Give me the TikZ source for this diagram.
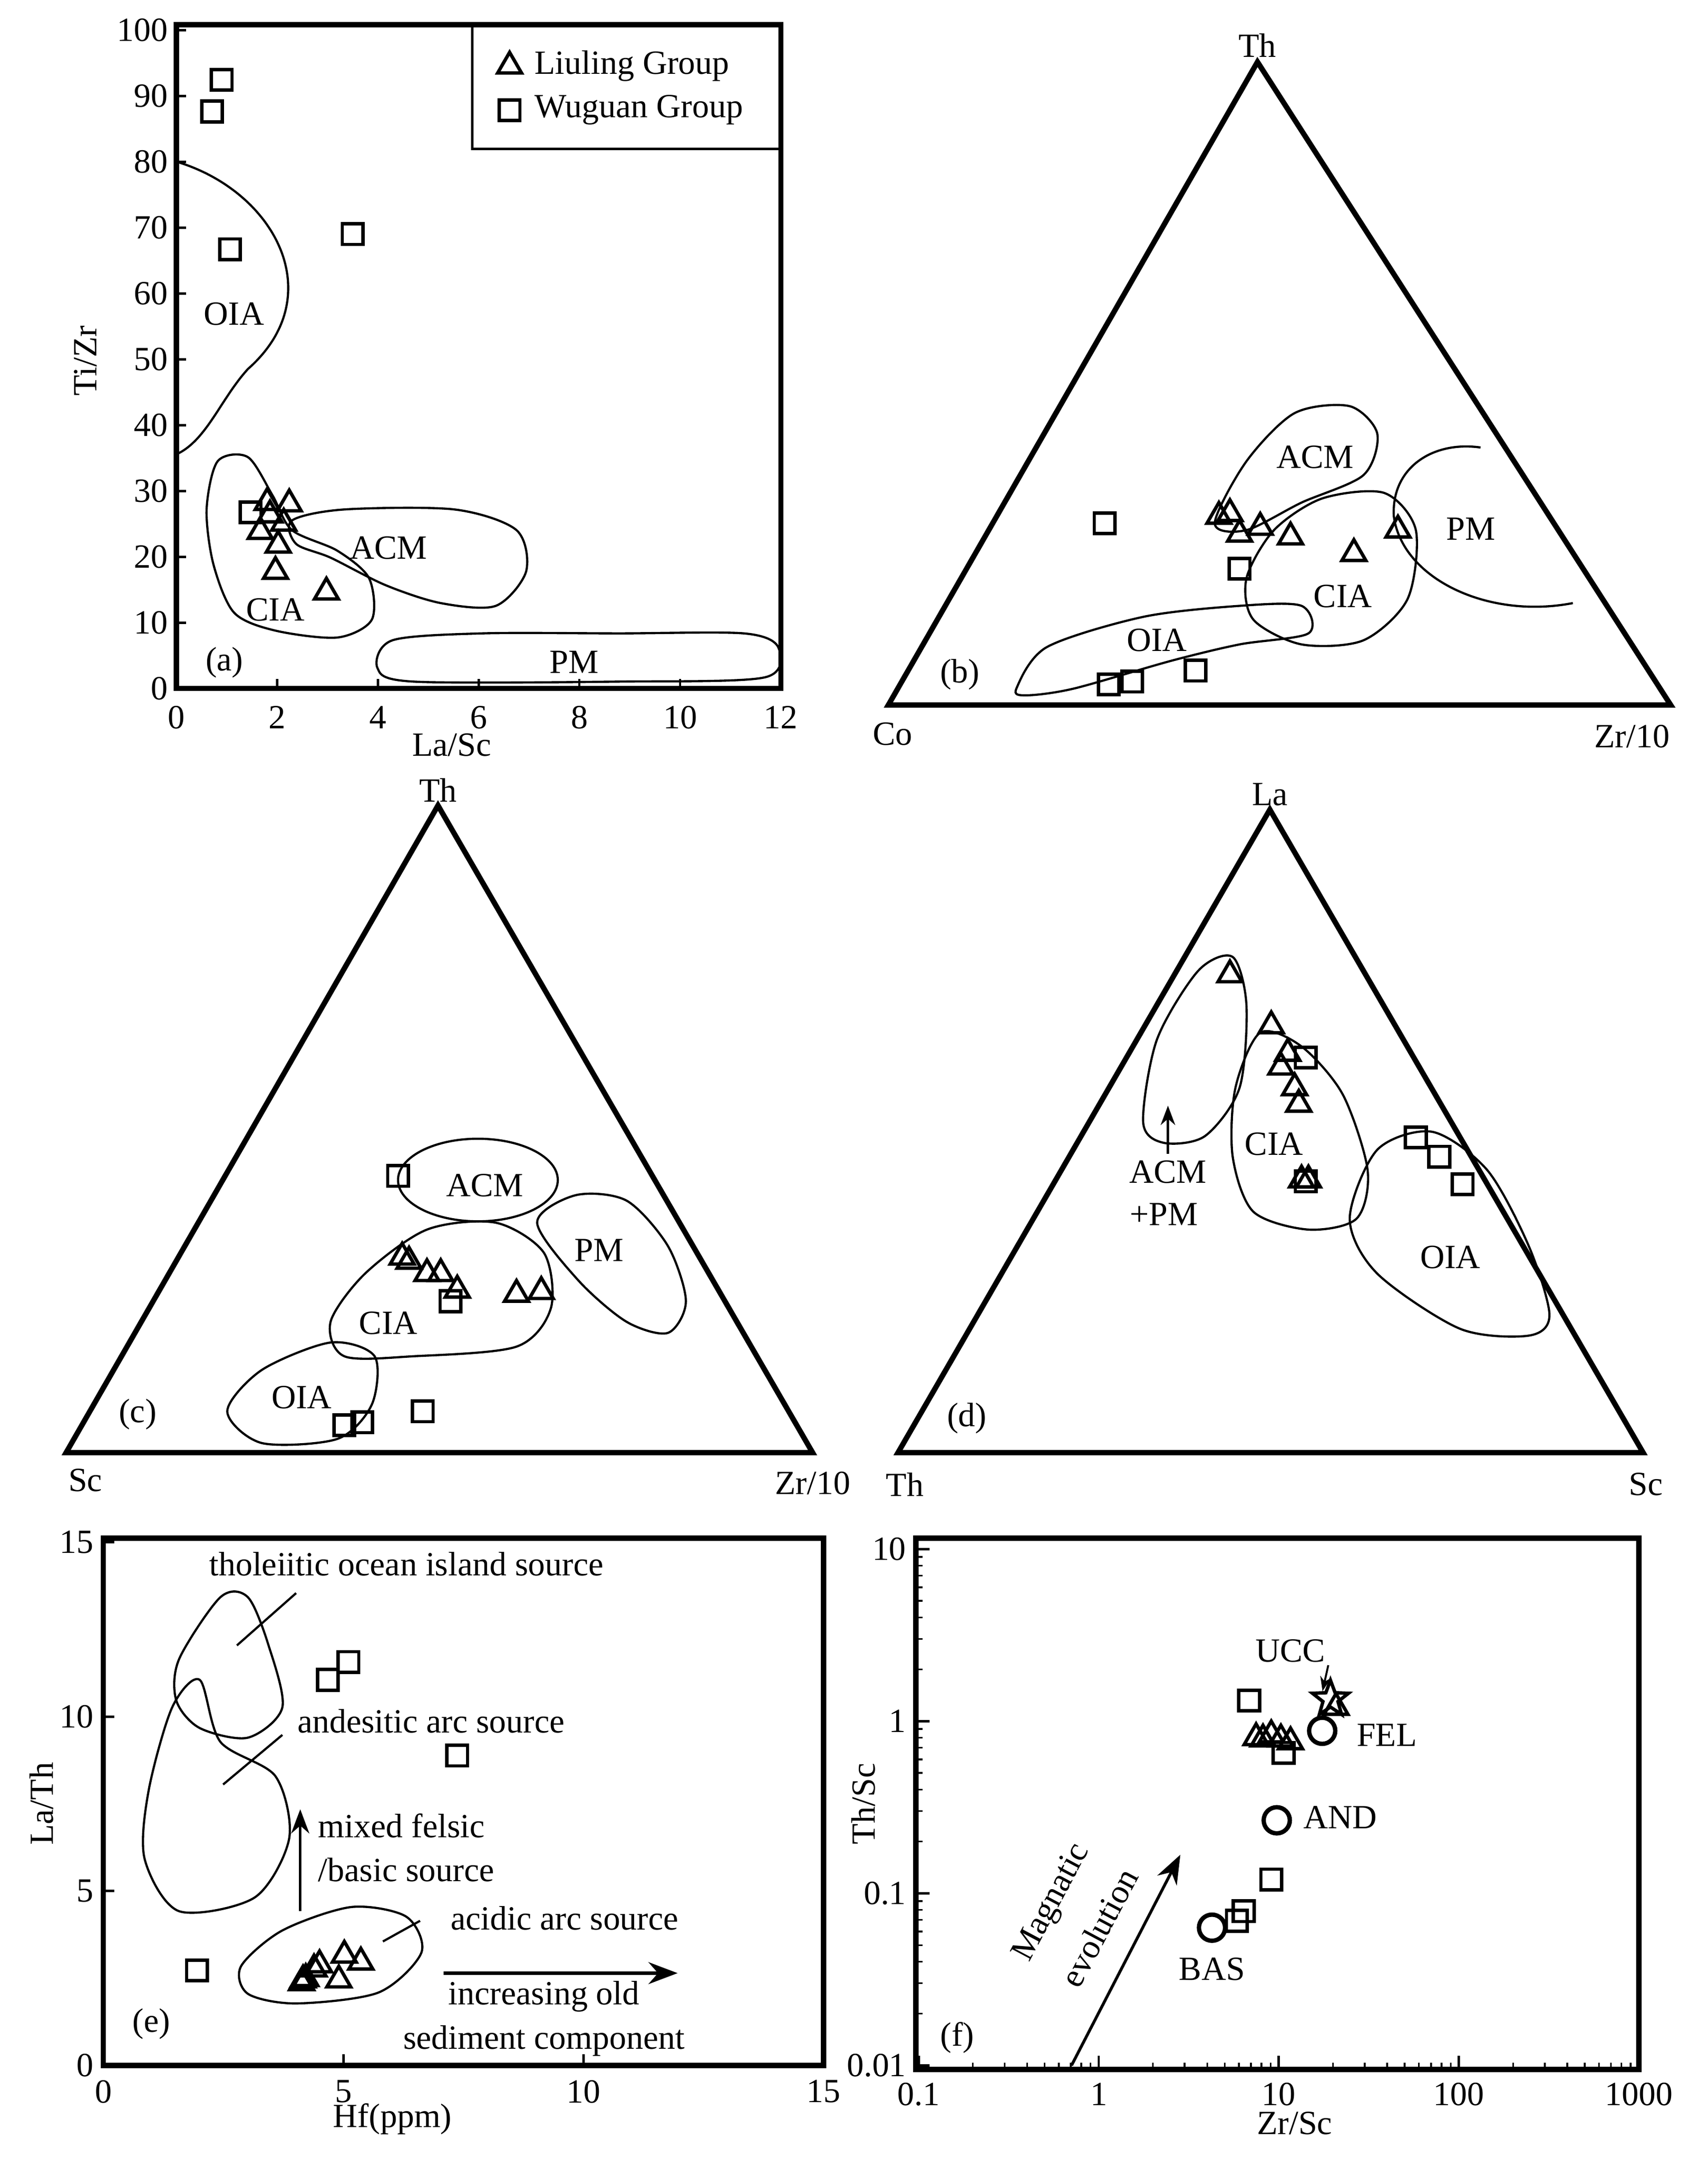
\documentclass[tikz,border=0pt]{standalone}
\usepackage{fontspec}
\setmainfont{Liberation Serif}
\usetikzlibrary{shapes.geometric,arrows.meta}
\tikzset{
  frame/.style={line width=2.2pt},
  field/.style={line width=0.9pt},
  sq/.style={draw,line width=1.4pt,minimum size=0.3cm,inner sep=0pt},
  tri/.style={draw,regular polygon,regular polygon sides=3,line width=1.4pt,minimum size=0.4cm,inner sep=0pt},
  circ/.style={draw,circle,line width=1.8pt,minimum size=0.38cm,inner sep=0pt},
  lab/.style={font=\fontsize{14}{16}\selectfont,inner sep=1pt},
}
\begin{document}
\begin{tikzpicture}[x=0.02cm,y=-0.02cm]
\useasboundingbox (0,0) rectangle (1240,1568);
% ---------- (a)
\draw[frame] (128,18) rectangle (567,500);
\draw[line width=1pt] (343,18) rectangle (567,108);
\node[tri] (lt) at (370,48) {};
\node[lab,anchor=west] (ltl) at (386,48) {Liuling Group};
\node[sq] (ls) at (370,80) {};
\node[lab,anchor=west] (lsl) at (386,80) {Wuguan Group};
\foreach \v [count=\i from 0] in {0,2,...,12} {
  \draw[line width=1pt] ({128+36.58*\v},500) -- ({128+36.58*\v},493);
  \node[lab] (ax\i) at ({128+36.58*\v},521) {\v};}
\foreach \v [count=\i from 0] in {0,10,...,100} {
  \draw[line width=1pt] (128,{500-4.78*\v}) -- (135,{500-4.78*\v});
  \node[lab,anchor=east] (ay\i) at (124,{500-4.78*\v}) {\v};}
\node[lab,rotate=90] (aylab) at (62,262) {Ti/Zr};
\node[lab] (axlab) at (328,541) {La/Sc};
\draw[field] (130,118) .. controls (200,140) and (240,215) .. (180,268)
  .. controls (160,290) and (150,320) .. (128,330);
\draw[field] plot[smooth cycle] coordinates {(158,335) (180,332) (198,360) (212,385) (245,400) (268,420) (270,450) (245,463) (200,458) (170,445) (155,410) (150,370)};
\draw[field] plot[smooth cycle] coordinates {(212,378) (250,370) (330,370) (375,385) (382,415) (360,440) (320,438) (280,425) (240,405) (215,395)};
\draw[field] plot[smooth cycle] coordinates {(285,465) (350,460) (450,460) (540,460) (565,470) (555,492) (450,495) (300,495) (274,485)};
\node[lab] (aoia) at (170,228) {OIA};
\node[lab] (aacm) at (282,398) {ACM};
\node[lab] (acia) at (200,443) {CIA};
\node[lab] (apm) at (417,481) {PM};
\node[lab] (alab) at (163,481) {(a)};
\foreach \p [count=\i] in {(154,81),(161,58),(167,181),(256,170),(182,372)}
  \node[sq] (asq\i) at \p {};
\foreach \p [count=\i] in {(194,365),(210,366),(189,386),(206,380),(202,396),(200,415),(237,430),(196,374)}
  \node[tri] (atr\i) at \p {};
% ---------- (b)
\coordinate (bco) at (645,512);
\coordinate (bzr) at (1213,512);
\coordinate (bth) at (913,45);
\draw[frame,line join=miter] (bco) -- (bzr) -- (bth) -- cycle;
\node[lab] (bthl) at (913,33) {Th};
\node[lab] (bcol) at (648,533) {Co};
\node[lab] (bzrl) at (1185,535) {Zr/10};
\draw[field] plot[smooth cycle] coordinates {(738,500) (760,470) (830,448) (900,440) (945,440) (950,460) (900,468) (850,480) (780,500) (745,505)};
\draw[field] plot[smooth cycle] coordinates {(882,380) (905,335) (940,300) (980,295) (1000,315) (990,345) (945,365) (905,385)};
\draw[field] plot[smooth cycle] coordinates {(905,420) (925,385) (960,362) (1005,358) (1028,385) (1022,435) (990,465) (945,468) (910,450)};
\draw[field] (1075,325) .. controls (1040,320) and (1010,340) .. (1012,375)
  .. controls (1018,420) and (1080,450) .. (1142,438);
\node[lab] (bacm) at (955,332) {ACM};
\node[lab] (bpm) at (1068,384) {PM};
\node[lab] (bcia) at (975,433) {CIA};
\node[lab] (boia) at (840,465) {OIA};
\node[lab] (blab) at (697,490) {(b)};
\foreach \p [count=\i] in {(802,380),(900,413),(805,497),(822,495),(868,487)}
  \node[sq] (bsq\i) at \p {};
\foreach \p [count=\i] in {(885,375),(893,373),(900,388),(915,383),(937,390),(983,402),(1015,385)}
  \node[tri] (btr\i) at \p {};
% ---------- (c)
\coordinate (csc) at (48,1055);
\coordinate (czr) at (590,1055);
\coordinate (cth) at (318,585);
\draw[frame,line join=miter] (csc) -- (czr) -- (cth) -- cycle;
\node[lab] (cthl) at (318,574) {Th};
\node[lab] (cscl) at (62,1075) {Sc};
\node[lab] (czrl) at (590,1077) {Zr/10};
\draw[field] (347,857) ellipse (58 and 30);
\draw[field] plot[smooth cycle] coordinates {(390,888) (418,868) (455,872) (485,905) (498,945) (485,968) (455,960) (420,930)};
\draw[field] plot[smooth cycle] coordinates {(240,960) (265,925) (310,893) (360,888) (395,910) (400,950) (375,978) (300,985) (250,985)};
\draw[field] plot[smooth cycle] coordinates {(165,1025) (190,995) (240,975) (272,985) (270,1020) (245,1045) (190,1048)};
\node[lab] (cacm) at (352,861) {ACM};
\node[lab] (cpm) at (435,908) {PM};
\node[lab] (ccia) at (282,961) {CIA};
\node[lab] (coia) at (219,1015) {OIA};
\node[lab] (clab) at (100,1027) {(c)};
\foreach \p [count=\i] in {(289,854),(327,945),(307,1025),(250,1035),(263,1033)}
  \node[sq] (csq\i) at \p {};
\foreach \p [count=\i] in {(292,913),(297,916),(310,925),(320,925),(332,937),(375,940),(393,938)}
  \node[tri] (ctr\i) at \p {};
% ---------- (d)
\coordinate (dth) at (652,1055);
\coordinate (dsc) at (1193,1055);
\coordinate (dla) at (922,588);
\draw[frame,line join=miter] (dth) -- (dsc) -- (dla) -- cycle;
\node[lab] (dlal) at (922,577) {La};
\node[lab] (dthl) at (657,1078) {Th};
\node[lab] (dscl) at (1195,1078) {Sc};
\draw[field] plot[smooth cycle] coordinates {(830,815) (840,755) (870,705) (895,695) (905,730) (900,790) (875,825) (845,830)};
\draw[field] plot[smooth cycle] coordinates {(897,790) (915,750) (945,760) (975,795) (993,850) (985,885) (950,893) (910,880) (895,840)};
\draw[field] plot[smooth cycle] coordinates {(980,885) (1000,835) (1040,822) (1080,850) (1110,905) (1125,955) (1110,970) (1060,965) (1000,925)};
\draw[-{Stealth[length=8pt]},line width=1pt] (848,838) coordinate (dar) -- (848,803) coordinate (dat);
\node[lab] (dcia) at (925,831) {CIA};
\node[lab] (dacm) at (848,851) {ACM};
\node[lab] (dpm) at (845,882) {+PM};
\node[lab] (doia) at (1053,913) {OIA};
\node[lab] (dlab) at (702,1030) {(d)};
\foreach \p [count=\i] in {(948,768),(1028,826),(1045,840),(1062,860),(948,858)}
  \node[sq] (dsq\i) at \p {};
\foreach \p [count=\i] in {(893,708),(923,745),(930,775),(935,765),(940,790),(943,802),(945,857),(950,857)}
  \node[tri] (dtr\i) at \p {};
% ---------- (e)
\draw[frame] (75,1117) rectangle (598,1500);
\foreach \v [count=\i from 0] in {0,5,10,15} {
  \draw[line width=1pt] ({75+34.87*\v},1500) -- ({75+34.87*\v},1492);
  \draw[line width=1pt] (75,{1500-25.33*\v}) -- (83,{1500-25.33*\v});
  \node[lab] (ex\i) at ({75+34.87*\v},1519) {\v};
  \node[lab,anchor=east] (ey\i) at (70,{1500-25.33*\v}) {\v};}
\node[lab,rotate=90] (eylab) at (30,1310) {La/Th};
\node[lab] (exlab) at (285,1539) {Hf(ppm)};
\draw[field] plot[smooth cycle] coordinates {(130,1205) (160,1160) (180,1160) (195,1195) (205,1240) (180,1262) (145,1255) (128,1235)};
\draw[field] plot[smooth cycle] coordinates {(108,1300) (125,1240) (145,1220) (160,1265) (200,1290) (210,1335) (185,1378) (130,1388) (105,1350)};
\draw[field] plot[smooth cycle] coordinates {(175,1428) (205,1402) (255,1385) (295,1392) (306,1418) (275,1447) (215,1455) (180,1448)};
\draw[field] (172,1195) coordinate (el1a) -- (215,1157) coordinate (el1b);
\draw[field] (162,1296) coordinate (el2a) -- (205,1260) coordinate (el2b);
\draw[field] (278,1410) coordinate (el3a) -- (305,1395) coordinate (el3b);
\draw[-{Stealth[length=10pt]},line width=1pt] (218,1388) coordinate (eua) -- (218,1314) coordinate (eub);
\draw[-{Stealth[length=12pt]},line width=1.6pt] (322,1433) coordinate (era) -- (492,1433) coordinate (erb);
\node[lab] (eth) at (295,1136) {tholeiitic ocean island source};
\node[lab] (ean) at (313,1250) {andesitic arc source};
\node[lab,anchor=west] (emx) at (229,1326) {mixed felsic};
\node[lab,anchor=west] (ebs) at (229,1358) {/basic source};
\node[lab] (eac) at (410,1393) {acidic arc source};
\node[lab] (eio) at (395,1450) {increasing old};
\node[lab] (esc) at (395,1482) {sediment component};
\node[lab] (elab) at (110,1470) {(e)};
\foreach \p [count=\i] in {(238,1220),(253,1207),(332,1275),(143,1431)}
  \node[sq] (esq\i) at \p {};
\foreach \p [count=\i] in {(220,1438),(222,1437),(228,1430),(232,1427),(246,1438),(250,1420),(262,1425),(219,1440)}
  \node[tri] (etr\i) at \p {};
% ---------- (f)
\draw[frame] (665,1117) rectangle (1190,1503);
\foreach \v [count=\i from 0] in {0.1,1,10,100,1000} {
  \node[lab] (fx\i) at ({667+130.75*\i},1521) {\v};
  \draw[line width=1pt] ({667+130.75*\i},1503) -- ({667+130.75*\i},1493);}
\foreach \v [count=\i from 0] in {0.01,0.1,1,10} {
  \node[lab,anchor=east] (fy\i) at (660,{1500-125*\i}) {\v};
  \draw[line width=1pt] (665,{1500-125*\i}) -- (675,{1500-125*\i});}
\foreach \d in {0,1,2,3} \foreach \m in {2,...,9} {
  \draw[line width=0.7pt] ({667+130.75*(\d+log10(\m))},1503) -- ({667+130.75*(\d+log10(\m))},1498);}
\foreach \d in {0,1,2} \foreach \m in {2,...,9} {
  \draw[line width=0.7pt] (665,{1500-125*(\d+log10(\m))}) -- (670,{1500-125*(\d+log10(\m))});}
\node[lab,rotate=90] (fylab) at (627,1310) {Th/Sc};
\node[lab] (fxlab) at (940,1542) {Zr/Sc};
\foreach \p [count=\i] in {(907,1235),(932,1273),(923,1365),(903,1388),(898,1395)}
  \node[sq] (fsq\i) at \p {};
\foreach \p [count=\i] in {(912,1262),(917,1263),(923,1260),(930,1263),(937,1265),(970,1240)}
  \node[tri] (ftr\i) at \p {};
\node[circ] (fbas) at (880,1400) {};
\node[circ] (fand) at (927,1322) {};
\node[circ] (ffel) at (960,1257) {};
\node[draw,star,star points=5,star point ratio=2.4,line width=1.4pt,minimum size=0.55cm,inner sep=0pt] (fucc) at (966,1234) {};
\node[lab] (fuccl) at (937,1199) {UCC};
\draw[-{Stealth[length=6pt]},line width=0.8pt] (fuccl.south east) -- (fucc.north west);
\node[lab] (ffell) at (1007,1260) {FEL};
\node[lab] (fandl) at (973,1320) {AND};
\node[lab] (fbasl) at (880,1430) {BAS};
\draw[-{Stealth[length=12pt]},line width=1.2pt] (778,1500) coordinate (fma) -- (857,1347) coordinate (fmb);
\node[lab,rotate=62] (fmag) at (764,1382) {Magnatic};
\node[lab,rotate=62] (fevo) at (798,1400) {evolution};
\node[lab] (flab) at (695,1480) {(f)};
\end{tikzpicture}
\end{document}
